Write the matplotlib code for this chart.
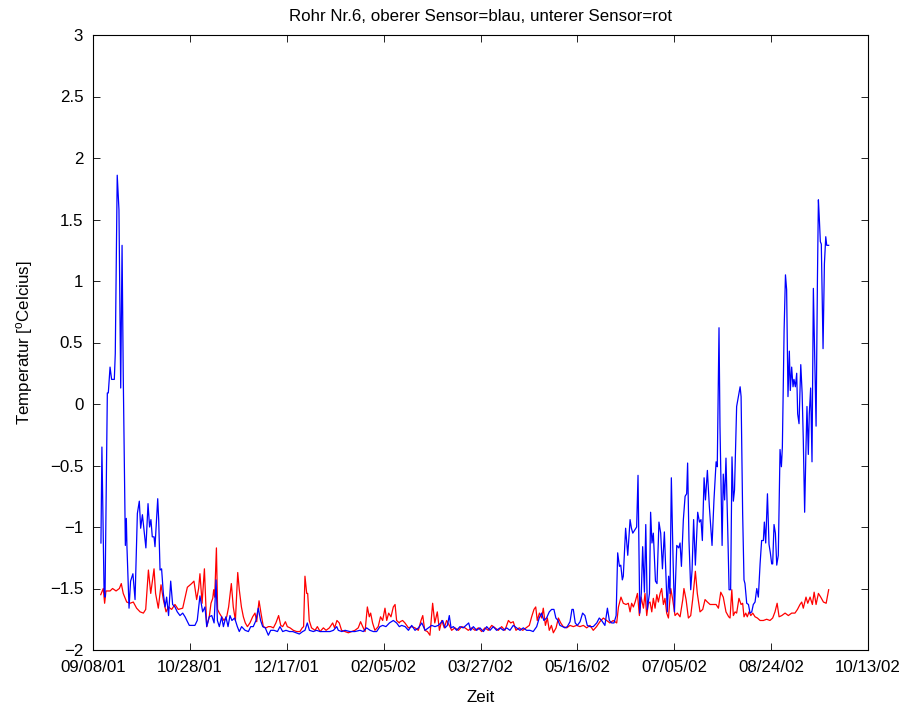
import matplotlib
matplotlib.use("Agg")
import matplotlib.pyplot as plt
import numpy as np

# Days since 09/08/01 and temperatures (deg C)
blue_days = [4.1, 4.6, 5.7, 6.2, 7.4, 7.9, 8.8, 9.6, 11.0, 11.5, 12.5, 13.4, 14.3, 15.0, 15.6,
             16.7, 17.2, 17.5, 18.6, 19.4, 20.6, 21.7, 22.9, 23.9, 24.6, 25.5, 26.5, 27.3, 28.4,
             29.2, 29.9, 30.6, 31.5, 32.0, 33.4, 33.9, 34.6, 35.4, 36.3, 37.2, 38.0, 39.0, 40.1,
             41.1, 42.3, 43.5, 44.9, 46.3, 47.5, 49.7, 52.6, 53.8, 55.2, 56.6, 57.8, 58.7, 60.0,
             61.3, 62.5, 63.5, 64.2, 65.2, 66.4, 67.3, 68.6, 69.7, 70.7, 71.7, 73.1, 74.5, 75.5,
             76.7, 78.5, 80.2, 81.4, 82.7, 84.1, 85.3, 86.5, 87.6, 88.9, 90.5, 91.7, 93.4, 95.2,
             96.5, 97.9, 99.6, 101.4, 103.1, 104.8, 106.5, 108.2, 109.4, 110.6, 111.7, 113.7,
             115.4, 117.2, 119.7, 122.3, 124.1, 125.8, 126.6, 128.4, 130.1, 132.6, 135.2, 137.8,
             139.5, 141.2, 143.0, 144.7, 146.4, 148.1, 149.5, 151.2, 153.0, 155.0, 156.7, 158.1,
             159.3, 161.1, 162.8, 164.5, 166.2, 168.0, 169.7, 171.4, 173.1, 174.8, 176.5, 178.2,
             179.5, 180.5, 181.7, 182.9, 183.9, 184.8, 186.0, 187.7, 189.4, 191.1, 192.5, 193.9,
             194.9, 196.3, 198.0, 199.7, 201.5, 203.2, 204.9, 206.6, 208.3, 210.1, 211.8, 213.5,
             215.2, 216.9, 218.6, 220.4, 222.1, 223.8, 225.5, 227.2, 229.0, 230.3, 231.5, 232.7,
             234.1, 235.5, 236.7, 237.9, 238.9, 240.0, 241.0, 242.4, 243.6, 244.8, 246.2, 247.2,
             247.9, 248.9, 250.0, 251.4, 252.7, 253.9, 255.1, 256.5, 258.2, 260.0, 261.3, 262.5,
             264.2, 265.5, 266.5, 267.7, 268.9, 270.0,
             270.8, 271.7, 272.4, 273.2, 273.7, 274.9, 276.0, 277.2, 277.9, 278.6, 279.8, 280.6,
             281.3, 282.2, 283.0, 283.7, 284.6, 285.3, 286.1, 287.2, 287.8, 288.5, 289.2, 290.3,
             291.1, 292.1, 293.0, 293.9, 294.9, 295.6, 296.4, 297.1, 297.8, 298.5, 299.4, 300.1,
             301.3, 302.3, 303.0, 303.7, 304.7, 305.6, 306.4, 306.9, 307.6, 308.5, 309.2, 310.0,
             310.9, 312.1, 313.0, 313.8, 314.5, 315.4, 316.1, 317.1, 318.1, 319.5, 320.5, 321.6,
             322.2, 323.1, 323.6, 324.7, 325.3, 326.0, 326.7, 327.6, 328.3, 329.1, 329.8, 330.5,
             331.1, 332.2, 333.1, 334.0, 334.5, 335.3, 336.0, 336.5, 337.4, 338.3, 339.1, 340.0,
             340.8, 341.7, 342.6, 343.4, 344.3, 345.1, 346.0, 346.5, 347.2, 348.1, 348.9, 349.6,
             350.3, 350.8, 351.5, 352.2, 352.9, 353.7, 354.6, 355.3, 355.8, 356.7, 357.4, 358.0,
             358.7, 359.4, 359.9, 360.6, 361.3, 361.8, 362.5, 363.2, 363.7, 364.4, 365.3, 366.0,
             366.6, 367.3, 368.0, 368.5, 369.2, 369.7, 370.4, 371.1, 371.8, 372.5, 373.2, 373.9,
             374.4, 374.9, 375.4, 375.9, 376.8, 377.5, 378.2, 378.7, 379.7]
blue_temp = [-1.13, -0.35, -1.51, -1.57, 0.09, 0.09, 0.30, 0.20, 0.20, 0.41, 1.86, 1.58, 0.13, 1.29, 0.25,
             -1.15, -0.93, -1.15, -1.66, -1.44, -1.38, -1.59, -0.89, -0.79, -1.01, -0.90, -1.05, -1.17, -0.81,
             -1.00, -0.94, -1.08, -1.08, -1.16, -0.77, -0.94, -1.35, -1.34, -1.54, -1.65, -1.57, -1.72, -1.44,
             -1.63, -1.65, -1.69, -1.72, -1.70, -1.73, -1.80, -1.80, -1.76, -1.56, -1.69, -1.65, -1.81, -1.73,
             -1.72, -1.78, -1.43, -1.76, -1.81, -1.73, -1.81, -1.73, -1.81, -1.72, -1.76, -1.74, -1.81, -1.85,
             -1.81, -1.84, -1.85, -1.81, -1.81, -1.76, -1.66, -1.76, -1.81, -1.82, -1.88, -1.84, -1.84, -1.85,
             -1.81, -1.85, -1.84, -1.85, -1.85, -1.86, -1.87, -1.85, -1.84, -1.78, -1.84, -1.85,
             -1.84, -1.85, -1.85, -1.85, -1.84, -1.81, -1.84, -1.85, -1.84, -1.85, -1.85, -1.84,
             -1.85, -1.82, -1.84, -1.85, -1.85, -1.81, -1.80, -1.81, -1.78, -1.76, -1.78, -1.81,
             -1.80, -1.81, -1.84, -1.80, -1.84, -1.82, -1.78, -1.84, -1.82, -1.80, -1.81, -1.80,
             -1.78, -1.76, -1.82, -1.80, -1.72, -1.82, -1.81, -1.84, -1.81, -1.82, -1.80, -1.78,
             -1.84, -1.81, -1.84, -1.82, -1.85, -1.81, -1.84, -1.81, -1.84, -1.82, -1.84, -1.82,
             -1.84, -1.80, -1.82, -1.84, -1.82, -1.84, -1.84, -1.85, -1.81, -1.74, -1.70, -1.76,
             -1.74, -1.69, -1.67, -1.67, -1.74, -1.76, -1.80, -1.81, -1.82, -1.81, -1.77, -1.67,
             -1.67, -1.78, -1.80, -1.77, -1.70, -1.72, -1.80, -1.81, -1.81, -1.78, -1.74, -1.76,
             -1.80, -1.66, -1.76, -1.78, -1.78, -1.72,
             -1.21, -1.32, -1.31, -1.43, -1.40, -1.01, -1.23, -0.94, -1.01, -1.05, -1.02, -1.00,
             -0.58, -1.70, -1.54, -1.16, -1.53, -0.98, -1.67, -1.54, -0.88, -1.13, -1.05, -1.44,
             -1.46, -0.96, -1.05, -1.34, -1.04, -1.35, -1.69, -1.40, -1.54, -0.60, -1.27, -1.69,
             -1.15, -1.17, -1.13, -1.32, -0.94, -0.75, -0.73, -0.48, -1.11, -1.51, -1.35, -0.94,
             -1.31, -0.88, -0.96, -0.94, -1.11, -0.60, -0.78, -0.54, -0.83, -1.15, -0.78, -0.47,
             -0.51, 0.62, -0.18, -1.15, -0.57, -0.78, -0.44, -1.02, -1.51, -1.51, -0.43, -0.79,
             -0.70, -0.02, 0.06, 0.14, 0.06, -0.89, -1.43, -1.46, -1.62, -1.63, -1.70, -1.69,
             -1.63, -1.61, -1.50, -1.57, -1.30, -1.11, -1.11, -0.96, -1.13, -0.73, -1.14, -1.21,
             -1.30, -1.30, -0.98, -1.05, -1.31, -1.23, -0.37, -0.51, -0.35, 0.60, 1.05, 0.93,
             0.06, 0.43, 0.11, 0.30, 0.14, 0.20, 0.14, 0.25, -0.08, -0.16, 0.32, 0.09,
             -0.29, -0.88, -0.35, -0.02, -0.41, -0.08, 0.13, -0.47, 0.94, 0.36, -0.18, 1.01,
             1.66, 1.50, 1.32, 1.30, 0.45, 1.14, 1.36, 1.29, 1.29]

red_days = [4.0, 5.3, 6.0, 6.7, 8.8, 10.1, 11.9, 13.6, 14.6, 15.6, 17.4, 19.1, 20.8, 22.5, 24.3,
            26.0, 27.2, 28.6, 29.8, 31.5, 32.3, 33.7, 35.1, 36.3, 37.7, 38.9, 40.6, 42.3, 44.0,
            46.3, 48.7, 50.9, 52.1, 53.5, 54.5,
            55.2, 56.3, 57.5, 58.7, 60.0, 60.9, 61.8, 62.3, 62.8, 63.7, 64.3, 65.2, 66.4, 67.6,
            69.0, 70.0, 71.4, 72.4, 73.5, 74.7, 75.5, 76.6, 77.6, 78.6, 79.7, 81.0, 82.4, 83.6,
            84.5, 85.7, 86.7, 87.9, 89.3, 90.5, 91.7, 93.1, 94.4, 95.8, 96.9, 97.9, 99.3, 100.3,
            101.7, 103.4, 105.1, 106.8, 108.0, 108.7, 109.4, 110.3, 110.8, 111.6, 112.8, 114.6,
            115.8, 117.2, 118.9, 120.3, 122.0, 123.7, 124.7, 125.9, 127.1, 128.3, 130.1, 131.8,
            133.5, 135.2, 136.9, 138.1, 139.2, 140.4, 141.6, 142.6, 143.3, 144.3, 145.5, 147.2,
            148.4, 149.5, 150.7, 151.6, 152.6, 153.8, 155.0, 155.9, 156.7, 158.1,
            158.5, 159.8, 161.0, 162.8, 164.5, 166.2, 167.9, 169.3, 170.2, 171.2, 172.6, 173.9,
            175.3, 176.4, 177.7, 178.8, 180.0, 181.3, 182.5, 183.9, 185.1, 186.8, 188.6, 190.3,
            192.0, 193.7, 195.4, 197.2, 198.9, 200.6, 202.3, 204.0, 205.8, 207.5, 209.2, 210.9,
            212.6, 214.4, 215.6, 216.9, 218.3, 220.0, 221.8, 223.5, 225.2, 226.4, 227.6, 228.5,
            229.3, 230.4, 231.6, 232.4, 233.5, 234.5, 235.5, 236.6, 237.6, 239.0, 240.2, 241.4,
            242.7, 244.5, 246.2, 247.9, 249.6, 251.3, 253.1, 254.8, 256.5, 258.2, 259.9, 261.6,
            263.4, 265.1, 266.8, 268.5, 270.3,
            271.2, 272.5, 273.7, 275.1, 276.3, 277.2, 278.0, 278.9, 279.8, 281.0, 282.0, 282.9,
            284.1, 284.9, 285.8, 286.6, 287.5, 288.4, 289.2, 290.1, 291.0, 291.8, 292.7, 293.5,
            294.4, 295.2, 296.1, 297.0, 298.2, 299.2, 300.4, 301.6, 303.0, 304.4, 305.0, 306.1,
            307.3, 308.5, 309.5, 310.9, 311.9, 313.3, 314.7, 315.9, 317.1, 318.5, 320.2, 321.6,
            322.8, 324.0, 325.3, 326.7, 328.1,
            328.8, 329.7, 330.5, 331.4, 332.2, 333.4, 334.5, 335.3, 336.0, 336.9, 337.7, 338.6,
            339.5, 340.5, 341.7, 342.9, 344.3, 346.0, 347.7, 349.4, 350.8, 352.0, 353.1, 354.1,
            355.5, 357.2, 358.9, 360.6, 362.3, 363.6, 364.9, 365.8, 366.6, 368.0, 368.9, 370.1,
            371.3, 372.2, 373.2, 374.4, 375.6, 377.0, 378.4, 379.7]
red_temp = [-1.55, -1.50, -1.62, -1.52, -1.52, -1.50, -1.52, -1.50, -1.46, -1.54, -1.61, -1.62, -1.61, -1.66, -1.69,
            -1.70, -1.67, -1.35, -1.54, -1.34, -1.54, -1.66, -1.47, -1.59, -1.69, -1.65, -1.67, -1.63, -1.67,
            -1.66, -1.49, -1.46, -1.44, -1.59, -1.50,
            -1.38, -1.62, -1.34, -1.81, -1.73, -1.62, -1.58, -1.51, -1.57, -1.17, -1.67, -1.70, -1.73, -1.76,
            -1.73, -1.65, -1.46, -1.65, -1.76, -1.37, -1.51, -1.65, -1.73, -1.78, -1.81, -1.78, -1.73, -1.70,
            -1.77, -1.60, -1.70, -1.81, -1.82, -1.81, -1.81, -1.82, -1.78, -1.72, -1.80, -1.81, -1.77, -1.81,
            -1.82, -1.84, -1.85, -1.85, -1.82, -1.81, -1.40, -1.54, -1.54, -1.76, -1.82, -1.84,
            -1.81, -1.85, -1.82, -1.84, -1.82, -1.78, -1.82, -1.76, -1.78, -1.84, -1.85, -1.86,
            -1.85, -1.84, -1.82, -1.77, -1.81, -1.85, -1.65, -1.73, -1.70, -1.78, -1.84, -1.81,
            -1.73, -1.76, -1.66, -1.76, -1.70, -1.73, -1.65, -1.63, -1.76, -1.78,
            -1.77, -1.76, -1.78, -1.82, -1.81, -1.82, -1.84, -1.76, -1.72, -1.84, -1.85, -1.88,
            -1.62, -1.78, -1.69, -1.84, -1.76, -1.82, -1.76, -1.80, -1.84, -1.82, -1.84, -1.81,
            -1.82, -1.84, -1.82, -1.84, -1.82, -1.85, -1.82, -1.84, -1.80, -1.82, -1.84, -1.81,
            -1.84, -1.76, -1.78, -1.77, -1.84, -1.82, -1.84, -1.82, -1.80, -1.73, -1.67, -1.65,
            -1.76, -1.70, -1.74, -1.66, -1.80, -1.74, -1.84, -1.80, -1.86, -1.82, -1.74, -1.78,
            -1.81, -1.82, -1.80, -1.81, -1.80, -1.81, -1.80, -1.82, -1.80, -1.84, -1.81, -1.77,
            -1.74, -1.76, -1.78, -1.76, -1.78,
            -1.65, -1.57, -1.62, -1.63, -1.62, -1.69, -1.62, -1.65, -1.61, -1.54, -1.72, -1.57,
            -1.66, -1.54, -1.72, -1.62, -1.61, -1.69, -1.58, -1.66, -1.55, -1.61, -1.54, -1.50,
            -1.63, -1.58, -1.70, -1.74, -1.50, -1.59, -1.72, -1.70, -1.73, -1.59, -1.50, -1.59,
            -1.74, -1.72, -1.59, -1.36, -1.54, -1.69, -1.67, -1.59, -1.61, -1.63, -1.63, -1.63,
            -1.66, -1.53, -1.57, -1.69, -1.73,
            -1.74, -1.51, -1.72, -1.69, -1.70, -1.58, -1.63, -1.62, -1.73, -1.70, -1.73, -1.69,
            -1.72, -1.70, -1.73, -1.74, -1.76, -1.76, -1.75, -1.76, -1.74, -1.69, -1.62, -1.73,
            -1.72, -1.70, -1.72, -1.70, -1.70, -1.67, -1.63, -1.61, -1.66, -1.57, -1.62, -1.57,
            -1.63, -1.53, -1.63, -1.54, -1.57, -1.61, -1.62, -1.51]

x_ticks = [0, 50, 100, 150, 200, 250, 300, 350, 400]
x_labels = ["09/08/01", "10/28/01", "12/17/01", "02/05/02", "03/27/02",
            "05/16/02", "07/05/02", "08/24/02", "10/13/02"]
y_ticks = [-2, -1.5, -1, -0.5, 0, 0.5, 1, 1.5, 2, 2.5, 3]
y_labels = ["\u22122", "\u22121.5", "\u22121", "\u22120.5", "0", "0.5", "1", "1.5", "2", "2.5", "3"]

plt.rcParams['font.family'] = ['Liberation Sans', 'DejaVu Sans']
plt.rcParams['mathtext.fontset'] = 'custom'
plt.rcParams['mathtext.rm'] = 'Liberation Sans'
plt.rcParams['mathtext.it'] = 'Liberation Sans'

FS = 12.2
fig = plt.figure(figsize=(9.05, 7.06), dpi=100)
ax = fig.add_axes([93/905, 56/706, 775/905, 615/706])

ax.plot(red_days, red_temp, color='#ff0000', lw=0.9)
ax.plot(blue_days, blue_temp, color='#0000ff', lw=0.9)

ax.set_xlim(0, 400)
ax.set_ylim(-2, 3)
ax.set_xticks(x_ticks)
ax.set_xticklabels(x_labels)
ax.set_yticks(y_ticks)
ax.set_yticklabels(y_labels)
ax.tick_params(direction='in', length=5, width=0.6, top=True, right=True, labelsize=FS)
ax.tick_params(axis='x', pad=7)
ax.tick_params(axis='y', pad=7)
for s in ax.spines.values():
    s.set_linewidth(0.8)

ax.set_title("Rohr Nr.6, oberer Sensor=blau, unterer Sensor=rot", fontsize=FS, pad=10)
ax.set_xlabel("Zeit", fontsize=FS, labelpad=11)
ax.set_ylabel("Temperatur [$^{\\rm o}$Celcius]", fontsize=FS, labelpad=11)

fig.savefig("out.png", dpi=100)
